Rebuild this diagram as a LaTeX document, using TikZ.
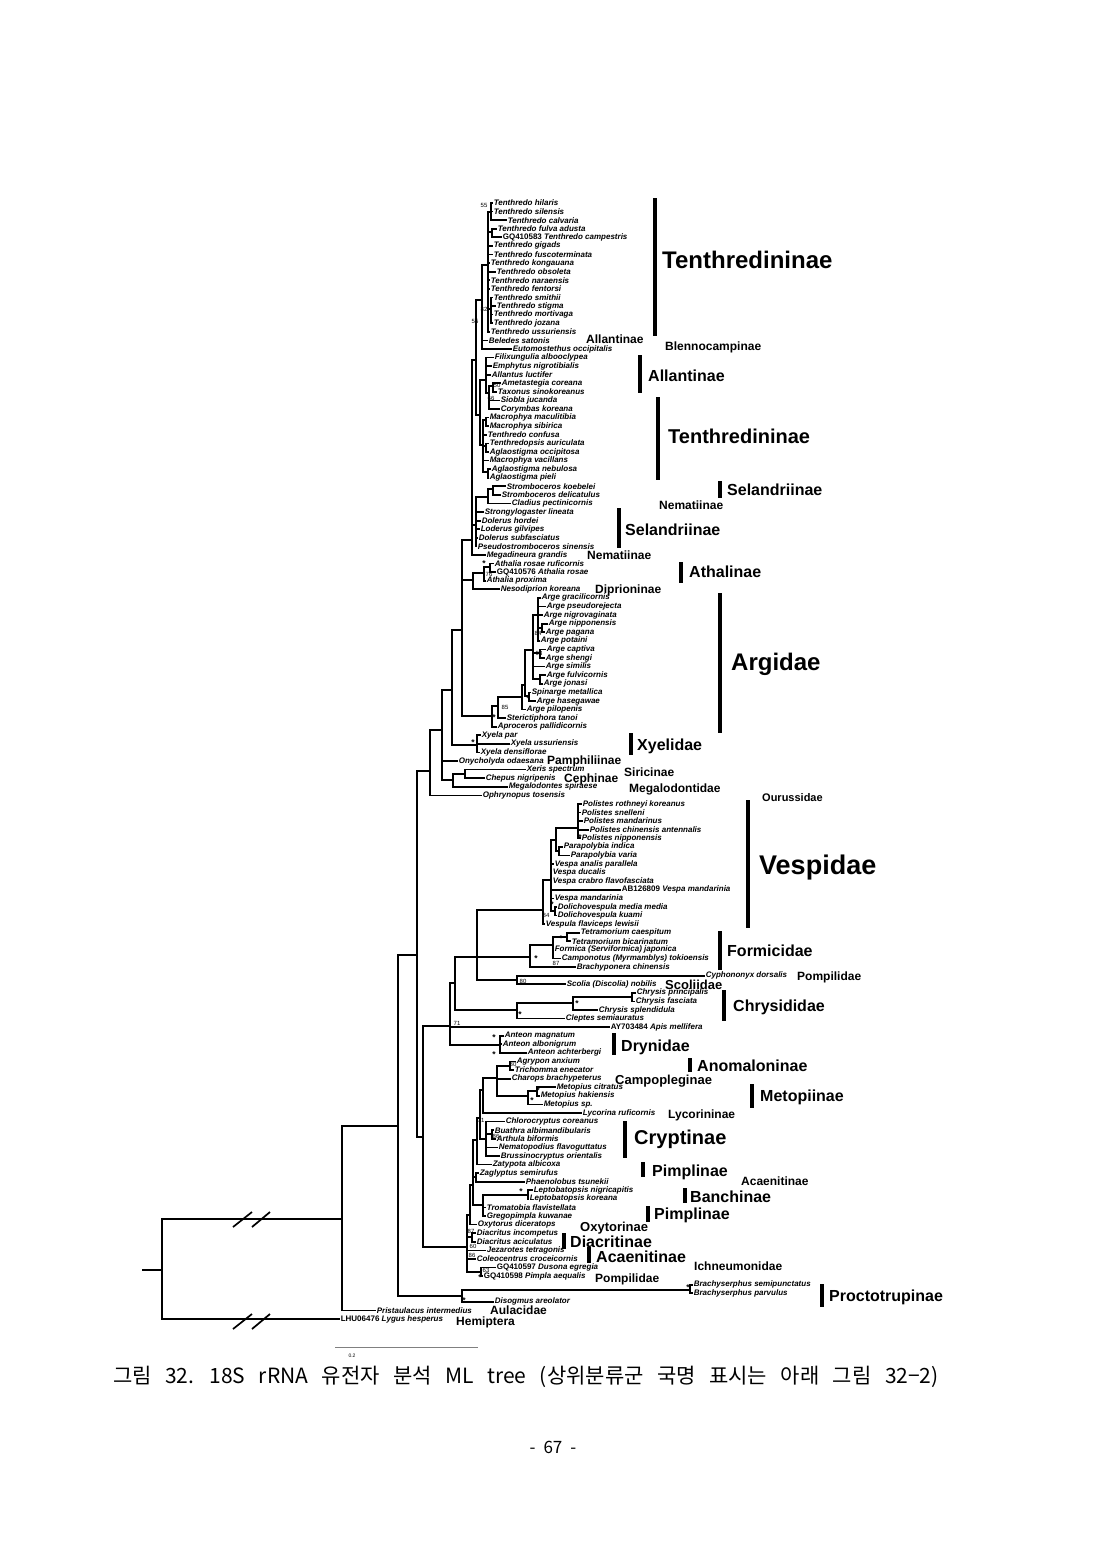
\documentclass[tikz,border=0pt]{standalone}
\usepackage{fontspec}
\setmainfont{Liberation Sans}
\newfontfamily\cjk{Noto Sans CJK KR}
\newcommand\tp[3]{\node[tl] (L#1) at (#2,{203+8.585*(#1-1)}) {#3};}
\newcommand\ed[2]{\foreach \kid in {#2}{\draw[br] (#1) |- (\kid);}}
\newcommand\nd[3]{\coordinate (#1) at (#2,#3);}
\newcommand\acc[1]{{\upshape #1}}
\newcommand\cl[5]{\node[clab,font=\fontsize{#2}{#2}\selectfont\bfseries] (#1) at (#3,#4) {#5};}
\newcommand\cbar[3]{\draw[cladebar] (#1,#2) -- (#1,#3);}
\newcommand\bsv[3]{\node[bsl] (#1) at (#2) {#3};}
\newcommand\bst[2]{\node[bstar] (#1) at (#2) {*};}
\begin{document}
\begin{tikzpicture}[x=1pt,y=-1pt,
  br/.style={line width=1.7pt},
  tl/.style={anchor=west,inner sep=0.6pt,font=\fontsize{8}{8}\selectfont\bfseries\itshape},
  clab/.style={anchor=base west,inner sep=0pt},
  cladebar/.style={line width=4.2pt},
  bsl/.style={inner sep=0pt,font=\fontsize{6}{6}\selectfont},
  bstar/.style={inner sep=0pt,font=\fontsize{8.5}{8.5}\selectfont\bfseries}]
\fill[white] (0,0) rectangle (1100,1558);
\useasboundingbox (0,0) rectangle (1100,1558);
% ---------------- tips ----------------
\tp{1}{493}{Tenthredo hilaris}
\tp{2}{493}{Tenthredo silensis}
\tp{3}{507}{Tenthredo calvaria}
\tp{4}{497}{Tenthredo fulva adusta}
\tp{5}{502}{\acc{GQ410583} Tenthredo campestris}
\tp{6}{493}{Tenthredo gigads}
\tp{7}{493}{Tenthredo fuscoterminata}
\tp{8}{490}{Tenthredo kongauana}
\tp{9}{496}{Tenthredo obsoleta}
\tp{10}{490}{Tenthredo naraensis}
\tp{11}{490}{Tenthredo fentorsi}
\tp{12}{493}{Tenthredo smithii}
\tp{13}{496}{Tenthredo stigma}
\tp{14}{493}{Tenthredo mortivaga}
\tp{15}{493}{Tenthredo jozana}
\tp{16}{490}{Tenthredo ussuriensis}
\tp{17}{488}{Beledes satonis}
\tp{18}{512}{Eutomostethus occipitalis}
\tp{19}{494}{Filixungulia albooclypea}
\tp{20}{492}{Emphytus nigrotibialis}
\tp{21}{491}{Allantus luctifer}
\tp{22}{501}{Ametastegia coreana}
\tp{23}{497}{Taxonus sinokoreanus}
\tp{24}{500}{Siobla jucanda}
\tp{25}{500}{Corymbas koreana}
\tp{26}{489}{Macrophya maculitibia}
\tp{27}{489}{Macrophya sibirica}
\tp{28}{487}{Tenthredo confusa}
\tp{29}{489}{Tenthredopsis auriculata}
\tp{30}{489}{Aglaostigma occipitosa}
\tp{31}{489}{Macrophya vacillans}
\tp{32}{491}{Aglaostigma nebulosa}
\tp{33}{489}{Aglaostigma pieli}
\tp{34}{506}{Stromboceros koebelei}
\tp{35}{501}{Stromboceros delicatulus}
\tp{36}{511}{Cladius pectinicornis}
\tp{37}{484}{Strongylogaster lineata}
\tp{38}{481}{Dolerus hordei}
\tp{39}{480}{Loderus gilvipes}
\tp{40}{478}{Dolerus subfasciatus}
\tp{41}{477}{Pseudostromboceros sinensis}
\tp{42}{486}{Megadineura grandis}
\tp{43}{494}{Athalia rosae ruficornis}
\tp{44}{496}{\acc{GQ410576} Athalia rosae}
\tp{45}{486}{Athalia proxima}
\tp{46}{500}{Nesodiprion koreana}
\tp{47}{541}{Arge gracilicornis}
\tp{48}{546}{Arge pseudorejecta}
\tp{49}{543}{Arge nigrovaginata}
\tp{50}{548}{Arge nipponensis}
\tp{51}{545}{Arge pagana}
\tp{52}{540}{Arge potaini}
\tp{53}{546}{Arge captiva}
\tp{54}{545}{Arge shengi}
\tp{55}{545}{Arge similis}
\tp{56}{546}{Arge fulvicornis}
\tp{57}{543}{Arge jonasi}
\tp{58}{531}{Spinarge metallica}
\tp{59}{536}{Arge hasegawae}
\tp{60}{526}{Arge pilopenis}
\tp{61}{506}{Sterictiphora tanoi}
\tp{62}{497}{Aproceros pallidicornis}
\tp{63}{481}{Xyela par}
\tp{64}{510}{Xyela ussuriensis}
\tp{65}{480}{Xyela densiflorae}
\tp{66}{458}{Onycholyda odaesana}
\tp{67}{526}{Xeris spectrum}
\tp{68}{485}{Chepus nigripenis}
\tp{69}{508}{Megalodontes spiraese}
\tp{70}{482}{Ophrynopus tosensis}
\tp{71}{582}{Polistes rothneyi koreanus}
\tp{72}{581}{Polistes snelleni}
\tp{73}{583}{Polistes mandarinus}
\tp{74}{589}{Polistes chinensis antennalis}
\tp{75}{581}{Polistes nipponensis}
\tp{76}{563}{Parapolybia indica}
\tp{77}{570}{Parapolybia varia}
\tp{78}{554}{Vespa analis parallela}
\tp{79}{552}{Vespa ducalis}
\tp{80}{552}{Vespa crabro flavofasciata}
\tp{81}{621}{\acc{AB126809} Vespa mandarinia}
\tp{82}{554}{Vespa mandarinia}
\tp{83}{557}{Dolichovespula media media}
\tp{84}{557}{Dolichovespula kuami}
\tp{85}{545}{Vespula flaviceps lewisii}
\tp{86}{580}{Tetramorium caespitum}
\tp{87}{571}{Tetramorium bicarinatum}
\tp{88}{554}{Formica (Serviformica) japonica}
\tp{89}{561}{Camponotus (Myrmamblys) tokioensis}
\tp{90}{576}{Brachyponera chinensis}
\tp{91}{705}{Cyphononyx dorsalis}
\tp{92}{566}{Scolia (Discolia) nobilis}
\tp{93}{636}{Chrysis principalis}
\tp{94}{635}{Chrysis fasciata}
\tp{95}{598}{Chrysis splendidula}
\tp{96}{565}{Cleptes semiauratus}
\tp{97}{610}{\acc{AY703484} Apis mellifera}
\tp{98}{504}{Anteon magnatum}
\tp{99}{502}{Anteon albonigrum}
\tp{100}{527}{Anteon achterbergi}
\tp{101}{516}{Agrypon anxium}
\tp{102}{514}{Trichomma enecator}
\tp{103}{511}{Charops brachypeterus}
\tp{104}{556}{Metopius citratus}
\tp{105}{540}{Metopius hakiensis}
\tp{106}{543}{Metopius sp.}
\tp{107}{582}{Lycorina ruficornis}
\tp{108}{505}{Chlorocryptus coreanus}
\tp{109}{494}{Buathra albimandibularis}
\tp{110}{496}{Arthula biformis}
\tp{111}{498}{Nematopodius flavoguttatus}
\tp{112}{500}{Brussinocryptus orientalis}
\tp{113}{492}{Zatypota albicoxa}
\tp{114}{479}{Zaglyptus semirufus}
\tp{115}{525}{Phaenolobus tsunekii}
\tp{116}{533}{Leptobatopsis nigricapitis}
\tp{117}{529}{Leptobatopsis koreana}
\tp{118}{486}{Tromatobia flavistellata}
\tp{119}{486}{Gregopimpla kuwanae}
\tp{120}{477}{Oxytorus diceratops}
\tp{121}{476}{Diacritus incompetus}
\tp{122}{476}{Diacritus aciculatus}
\tp{123}{486}{Jezarotes tetragonis}
\tp{124}{476}{Coleocentrus croceicornis}
\tp{125}{496}{\acc{GQ410597} Dusona egregia}
\tp{126}{483}{\acc{GQ410598} Pimpla aequalis}
\tp{127}{693}{Brachyserphus semipunctatus}
\tp{128}{693}{Brachyserphus parvulus}
\tp{129}{494}{Disogmus areolator}
\tp{130}{376}{Pristaulacus intermedius}
\tp{131}{340}{\acc{LHU06476} Lygus hesperus}
% ---------------- Symphyta ----------------
\nd{t1}{491}{212} \ed{t1}{L1,L2,L3}
\nd{t2}{492}{232} \ed{t2}{L4,L5}
\nd{t3}{491}{309} \ed{t3}{L12,L13,L14,L15}
\nd{t0}{488}{265} \ed{t0}{t1,t2,L6,L7,L8,L9,L10,L11,t3,L16}
\nd{sa}{482}{300} \ed{sa}{t0,L17,L18}
\nd{sb1}{493}{386} \ed{sb1}{L22,L23}
\nd{sb2}{489}{393} \ed{sb2}{sb1,L24,L25}
\nd{sbu}{486}{380} \ed{sbu}{L19,L20,L21,sb2}
\nd{sb3}{486}{420} \ed{sb3}{L26,L27}
\nd{sb4}{486}{446} \ed{sb4}{L29,L30}
\nd{sb5}{488}{472} \ed{sb5}{L32,L33}
\nd{sbl}{483}{445} \ed{sbl}{sb3,L28,sb4,L31,sb5}
\nd{sb}{480}{415} \ed{sb}{sbu,sbl}
\nd{sf}{476}{360} \ed{sf}{sa,sb}
\nd{sc1}{493}{489} \ed{sc1}{L34,L35}
\nd{sc}{488}{497} \ed{sc}{sc1,L36}
\nd{sd}{476}{525} \ed{sd}{sc,L37,L38,L39,L40,L41}
\nd{sg}{472}{540} \ed{sg}{sf,sd,L42}
\nd{sh1}{490}{567} \ed{sh1}{L43,L44}
\nd{sh2}{484}{573} \ed{sh2}{sh1,L45}
\nd{sh}{473}{580} \ed{sh}{sh2,L46}
\nd{arg9}{542}{628} \ed{arg9}{L50,L51}
\nd{arg6}{538}{615} \ed{arg6}{L47,L48,L49,arg9,L52}
\nd{arg7}{540}{653} \ed{arg7}{L53,L54}
\nd{arg8}{540}{679} \ed{arg8}{L56,L57}
\nd{arg4}{533}{650} \ed{arg4}{arg6,arg7,L55,arg8}
\nd{arg5}{529}{696} \ed{arg5}{L58,L59}
\nd{arg3}{525}{685} \ed{arg3}{arg4,arg5}
\nd{arg2}{522}{697} \ed{arg2}{arg3,L60}
\nd{arg1}{498}{706} \ed{arg1}{arg2,L61}
\nd{arg0}{492}{716} \ed{arg0}{arg1,L62}
\nd{si}{462}{630} \ed{si}{sg,sh,arg0}
\nd{xy}{477}{745} \ed{xy}{L63,L64,L65}
\nd{SM}{452}{690} \ed{SM}{si,xy}
\nd{sx}{465}{774} \ed{sx}{L67,L68}
\nd{sceph}{453}{780} \ed{sceph}{sx,L69}
\nd{SL}{442}{730} \ed{SL}{SM,L66,sceph}
\nd{SK}{430}{771} \ed{SK}{SL,L70}
% ---------------- Aculeata ----------------
\nd{V4}{578}{828} \ed{V4}{L71,L72,L73,L74,L75}
\nd{Vp}{559}{851} \ed{Vp}{L76,L77}
\nd{V2}{556}{840} \ed{V2}{V4,Vp}
\nd{V3}{555}{911} \ed{V3}{L83,L84}
\nd{V1}{551}{880} \ed{V1}{V2,L78,L79,L80,L81,L82,V3}
\nd{V0}{543}{910} \ed{V0}{V1,L85}
\nd{F2}{567}{937} \ed{F2}{L86,L87}
\nd{F1}{553}{945} \ed{F1}{F2,L88,L89}
\nd{F0}{530}{957} \ed{F0}{F1,L90}
\nd{PS}{517}{980} \ed{PS}{L91,L92}
\nd{E}{477}{957} \ed{E}{V0,F0,PS}
\nd{Chr2}{632}{997} \ed{Chr2}{L93,L94}
\nd{Chr1}{573}{1003} \ed{Chr1}{Chr2,L95}
\nd{Chr}{517}{1010} \ed{Chr}{Chr1,L96}
\nd{D}{455}{983} \ed{D}{E,Chr}
\nd{Dry}{500}{1045} \ed{Dry}{L98,L99,L100}
\nd{C}{450}{1026} \ed{C}{D,L97,Dry}
% ---------------- Ichneumonidae ----------------
\nd{Ic}{510}{1066} \ed{Ic}{L101,L102}
\nd{Ie}{537}{1091} \ed{Ie}{L104,L105}
\nd{Idm}{528}{1096} \ed{Idm}{Ie,L106}
\nd{Ib}{497}{1078} \ed{Ib}{Ic,L103,Idm}
\nd{Ia}{483}{1090} \ed{Ia}{Ib,L107}
\nd{Icr2}{492}{1134} \ed{Icr2}{L109,L110}
\nd{Icr}{486}{1139} \ed{Icr}{L108,Icr2,L111,L112}
\nd{If}{480}{1118} \ed{If}{Ia,Icr}
\nd{Ig}{477}{1140} \ed{Ig}{If,L113}
\nd{Izp}{476}{1177} \ed{Izp}{L114,L115}
\nd{Ilep}{528}{1195} \ed{Ilep}{L116,L117}
\nd{Ilb}{483}{1205} \ed{Ilb}{Ilep,L118,L119}
\nd{Ih}{473}{1185} \ed{Ih}{Ig,Izp,Ilb}
\nd{I1}{470}{1215} \ed{I1}{Ih,L120}
\nd{Id}{472}{1237} \ed{Id}{L121,L122}
\nd{Idp}{481}{1272} \ed{Idp}{L125,L126}
\nd{I0}{467}{1247} \ed{I0}{I1,Id,L123,L124,Idp}
\nd{B}{423}{1137} \ed{B}{C,I0}
\nd{A}{417}{955} \ed{A}{SK,B}
% ---------------- base ----------------
\nd{Pr1}{690}{1290} \ed{Pr1}{L127,L128}
\nd{Pr}{462}{1296} \ed{Pr}{Pr1,L129}
\nd{R3}{398}{1126} \ed{R3}{A,Pr}
\nd{R2}{342}{1219} \ed{R2}{R3,L130}
\nd{R1}{162}{1270} \ed{R1}{R2,L131}
\nd{root}{142}{1270} \draw[br] (root) -- (R1);
% break marks
\draw[br] (233,1227) -- (252,1212);
\draw[br] (252,1227) -- (270,1212);
\draw[br] (233,1329) -- (252,1314);
\draw[br] (252,1329) -- (270,1314);
% ---------------- support values ----------------
\bsv{b1}{484,205}{55}
\bsv{b2}{484,309}{82}
\bsv{b3}{475,321}{55}
\bsv{b4}{497,385}{50}
\bsv{b5}{491,398}{66}
\bst{b6}{484,564}
\bsv{b7}{489,574}{76}
\bst{b8}{494,718}
\bsv{b9}{505,707}{85}
\bst{b10}{528,699}
\bsv{b11}{539,653}{93}
\bsv{b12}{538,633}{84}
\bst{b13}{473,743}
\bst{b14}{580,838}
\bst{b15}{552,905}
\bsv{b16}{546,915}{84}
\bst{b17}{561,939}
\bst{b18}{536,959}
\bsv{b19}{556,963}{87}
\bsv{b20}{523,981}{80}
\bst{b21}{577,1004}
\bst{b22}{520,1015}
\bsv{b23}{457,1023}{71}
\bst{b24}{494,1038}
\bst{b25}{494,1055}
\bsv{b26}{513,1064}{80}
\bst{b27}{538,1091}
\bst{b28}{532,1101}
\bsv{b29}{481,1120}{71}
\bsv{b30}{496,1136}{86}
\bst{b31}{521,1192}
\bsv{b32}{471,1231}{87}
\bsv{b33}{473,1246}{60}
\bsv{b34}{472,1255}{86}
\bsv{b35}{486,1270}{63}
\bst{b36}{480,1278}
\bst{b37}{464,1301}
\bst{b38}{688,1288}
% ---------------- clade labels ----------------
\cbar{655}{198}{336} \cl{c1}{24}{662}{268}{Tenthredininae}
\cl{c2}{12}{586}{343}{Allantinae}
\cl{c3}{12}{665}{350}{Blennocampinae}
\cbar{640}{355}{393} \cl{c4}{16}{648}{381}{Allantinae}
\cbar{658}{397}{480} \cl{c5}{20}{668}{443}{Tenthredininae}
\cbar{720}{481}{498} \cl{c6}{16}{727}{495}{Selandriinae}
\cl{c7}{12}{659}{509}{Nematiinae}
\cbar{619}{508}{548} \cl{c8}{16}{625}{535}{Selandriinae}
\cl{c9}{12}{587}{559}{Nematiinae}
\cbar{681}{562}{583} \cl{c10}{16}{689}{577}{Athalinae}
\cl{c11}{12}{595}{593}{Diprioninae}
\cbar{720}{593}{733} \cl{c12}{24}{731}{670}{Argidae}
\cbar{631}{733}{755} \cl{c13}{16}{637}{750}{Xyelidae}
\cl{c14}{12}{547}{764}{Pamphiliinae}
\cl{c15}{12}{624}{776}{Siricinae}
\cl{c16}{12}{564}{782}{Cephinae}
\cl{c17}{12}{629}{792}{Megalodontidae}
\cl{c18}{11}{762}{801}{Ourussidae}
\cbar{748}{800}{928} \cl{c19}{27}{759}{874}{Vespidae}
\cbar{720}{931}{970} \cl{c20}{16}{727}{956}{Formicidae}
\cl{c21}{12}{797}{980}{Pompilidae}
\cl{c22}{13}{665}{989}{Scoliidae}
\cbar{724}{990}{1021} \cl{c23}{16}{733}{1011}{Chrysididae}
\cbar{614}{1033}{1055} \cl{c24}{16}{621}{1051}{Drynidae}
\cbar{690}{1058}{1072} \cl{c25}{16}{697}{1071}{Anomaloninae}
\cl{c26}{13}{615}{1084}{Campopleginae}
\cbar{752}{1084}{1108} \cl{c27}{16}{760}{1101}{Metopiinae}
\cl{c28}{12}{668}{1118}{Lycorininae}
\cbar{625}{1121}{1158} \cl{c29}{20}{634}{1144}{Cryptinae}
\cbar{643}{1162}{1177} \cl{c30}{16}{652}{1176}{Pimplinae}
\cl{c31}{12}{741}{1185}{Acaenitinae}
\cbar{685}{1188}{1203} \cl{c32}{16}{690}{1202}{Banchinae}
\cbar{648}{1206}{1222} \cl{c33}{16}{654}{1219}{Pimplinae}
\cl{c34}{13}{580}{1231}{Oxytorinae}
\cbar{564}{1233}{1249} \cl{c35}{16}{570}{1247}{Diacritinae}
\cbar{589}{1247}{1263} \cl{c36}{16}{596}{1262}{Acaenitinae}
\cl{c37}{12}{694}{1270}{Ichneumonidae}
\cl{c38}{12}{595}{1282}{Pompilidae}
\cbar{822}{1284}{1307} \cl{c39}{16}{829}{1301}{Proctotrupinae}
\cl{c40}{12}{490}{1314}{Aulacidae}
\cl{c41}{12}{456}{1325}{Hemiptera}
% ---------------- scale bar, caption, page ----------------
\coordinate (scA) at (335,1347);
\coordinate (scB) at (478,1347);
\draw[gray,line width=0.8pt] (scA) -- (scB);
\node[inner sep=0pt,font=\fontsize{5}{5}\selectfont] (scT) at (352,1356) {0.2};
\node[anchor=base west,inner sep=0pt,font=\cjk\fontsize{21}{21}\selectfont] (cap) at (113,1383) {\spaceskip=13.5pt\relax 그림 32. 18S rRNA 유전자 분석 ML tree (상위분류군 국명 표시는 아래 그림 32−2)};
\node[inner sep=0pt,font=\cjk\fontsize{17}{17}\selectfont] (pg) at (553,1447) {\spaceskip=8pt\relax - 67 -};
\end{tikzpicture}
\end{document}
